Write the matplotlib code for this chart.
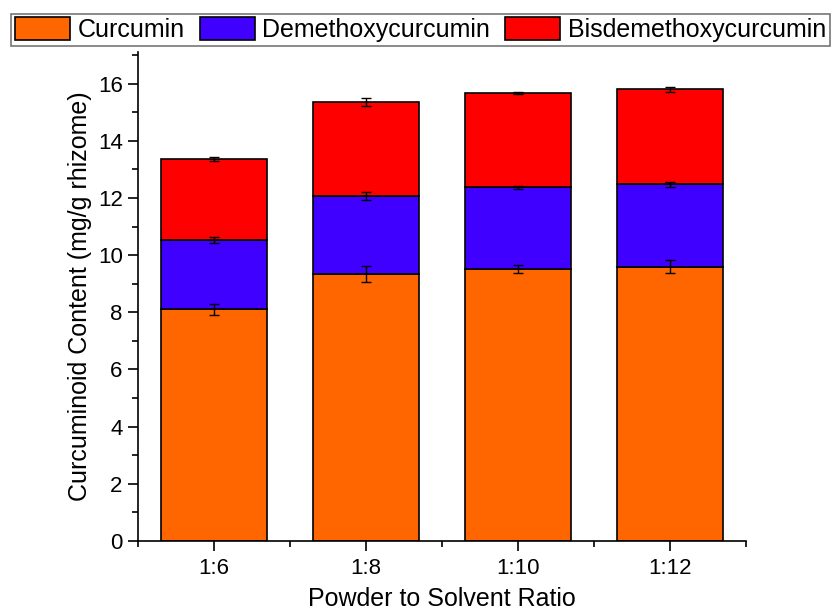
import matplotlib.pyplot as plt
import numpy as np
from matplotlib.ticker import MultipleLocator

plt.rcParams['font.family'] = ['Liberation Sans', 'DejaVu Sans']

ratios = ['1:6', '1:8', '1:10', '1:12']
curcumin = [8.10, 9.35, 9.52, 9.60]
demethoxy = [2.43, 2.73, 2.85, 2.88]
bisdemethoxy = [2.84, 3.27, 3.31, 3.32]
curcumin_err = [0.19, 0.28, 0.14, 0.22]
demethoxy_err = [0.09, 0.14, 0.04, 0.08]
bisdemethoxy_err = [0.07, 0.13, 0.04, 0.08]

series = [
    ('Curcumin', curcumin, curcumin_err, '#ff6600'),
    ('Demethoxycurcumin', demethoxy, demethoxy_err, '#4000ff'),
    ('Bisdemethoxycurcumin', bisdemethoxy, bisdemethoxy_err, '#ff0000'),
]


def main():
    fig = plt.figure(figsize=(8.36, 6.14), dpi=100)
    ax = fig.add_axes([0.165, 0.119, 0.727, 0.796])

    x = np.arange(len(ratios))
    bottom = np.zeros(len(ratios))
    for name, vals, errs, color in series:
        vals = np.array(vals)
        ax.bar(x, vals, 0.7, bottom=bottom, color=color, edgecolor='black',
               linewidth=1.2, label=name, zorder=2)
        ax.errorbar(x, bottom + vals, yerr=errs, fmt='none', ecolor='black',
                    elinewidth=1, capsize=3.8, capthick=1, zorder=3)
        bottom += vals

    ax.set_xlim(-0.5, 3.5)
    ax.set_ylim(0, 17.1)
    ax.set_xticks(x)
    ax.set_xticklabels(ratios)
    ax.set_xticks([-0.5, 0.5, 1.5, 2.5, 3.5], minor=True)
    ax.yaxis.set_major_locator(MultipleLocator(2))
    ax.yaxis.set_minor_locator(MultipleLocator(1))

    for side in ['top', 'right']:
        ax.spines[side].set_visible(False)
    for side in ['left', 'bottom']:
        ax.spines[side].set_linewidth(1.2)
    ax.tick_params(which='major', direction='out', length=7, width=1.2,
                   labelsize=16, pad=4)
    ax.tick_params(which='minor', direction='out', length=4.5, width=1.2)
    ax.tick_params(axis='x', which='major', pad=5)

    ax.set_xlabel('Powder to Solvent Ratio', fontsize=18, labelpad=6)
    ax.set_ylabel('Curcuminoid Content (mg/g rhizome)', fontsize=18, labelpad=4)

    leg = fig.legend(loc='upper center', bbox_to_anchor=(0.503, 0.982), ncol=3,
                     fontsize=18, frameon=True, fancybox=False,
                     edgecolor='#555555', handlelength=2.2, handleheight=1.0,
                     handletextpad=0.3, columnspacing=0.6, borderpad=0.15,
                     borderaxespad=0.1)
    leg.get_frame().set_linewidth(1.2)

    fig.savefig('out.png', dpi=100)


if __name__ == "__main__":
    main()
